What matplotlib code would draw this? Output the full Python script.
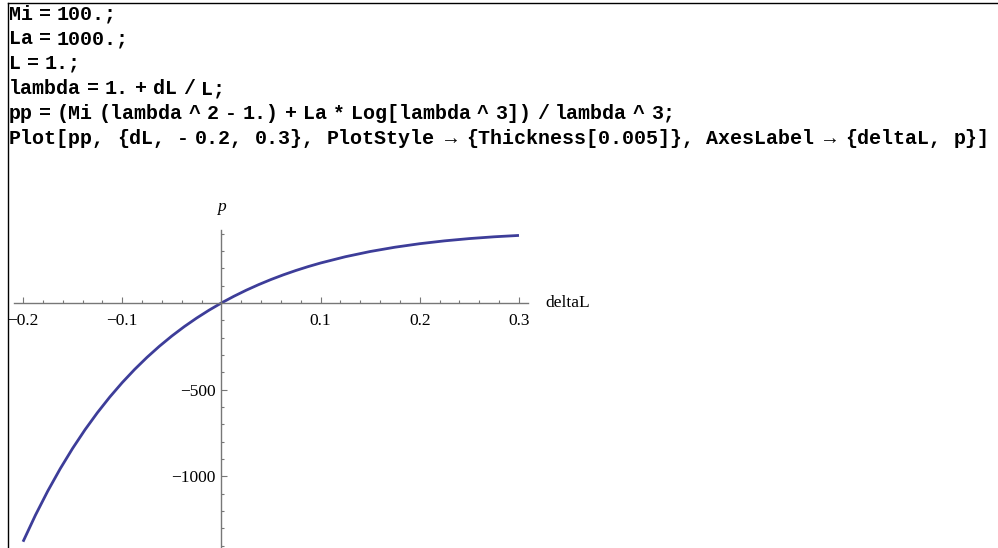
import numpy as np
import matplotlib.pyplot as plt
from matplotlib.lines import Line2D

# notebook input lines shown above the plot
codeLines = [
    "Mi = 100.;",
    "La = 1000.;",
    "L = 1.;",
    "lambda = 1. + dL / L;",
    "pp = (Mi (lambda ^ 2 - 1.) + La * Log[lambda ^ 3]) / lambda ^ 3;",
    "Plot[pp, {dL, - 0.2, 0.3}, PlotStyle \u2192 {Thickness[0.005]}, AxesLabel \u2192 {deltaL, p}]",
]

# curve
dL = [-0.2, -0.1875, -0.175, -0.1625, -0.15, -0.1375, -0.125, -0.1125, -0.1,
      -0.0875, -0.075, -0.0625, -0.05, -0.0375, -0.025, -0.0125, 0.0,
      0.0125, 0.025, 0.0375, 0.05, 0.0625, 0.075, 0.0875, 0.1,
      0.125, 0.15, 0.175, 0.2, 0.225, 0.25, 0.275, 0.3]
pVals = [-1377.8, -1224.7, -1084.7, -956.5, -839.1, -731.5, -633.0, -542.6, -459.6,
         -383.6, -313.8, -249.7, -190.8, -136.8, -87.3, -41.8, 0.0,
         38.3, 73.5, 105.7, 135.3, 162.4, 187.2, 209.9, 230.6,
         266.8, 296.9, 321.7, 342.0, 358.4, 371.5, 381.8, 389.7]

xMajor = [-0.2, -0.1, 0.1, 0.2, 0.3]
xMinor = [-0.18, -0.16, -0.14, -0.12, -0.08, -0.06, -0.04, -0.02,
          0.02, 0.04, 0.06, 0.08, 0.12, 0.14, 0.16, 0.18, 0.22, 0.24, 0.26, 0.28]
yMajor = [-1000, -500]
yMinor = [-1400, -1300, -1200, -1100, -900, -800, -700, -600, -400, -300, -200, -100,
          100, 200, 300, 400]

W, H = 998, 548
fig = plt.figure(figsize=(W / 100, H / 100), dpi=100)
fig.patch.set_facecolor('white')

# cell bracket lines
fig.add_artist(Line2D([8 / W, 1], [1 - 2.5 / H, 1 - 2.5 / H], color='black', lw=1.0))
fig.add_artist(Line2D([8 / W, 8 / W], [0, 1 - 2.5 / H], color='black', lw=1.0))

# code text, token by token (Mathematica puts narrow gaps around operators)
codeSize = 14.4
adv = 0.6 * codeSize * 100 / 72
codeBase = [19.5, 44, 69, 94, 119, 144]
for line, yb in zip(codeLines, codeBase):
    x = 9.0
    toks = line.split(' ')
    for i, tok in enumerate(toks):
        fig.text(x / W, 1 - yb / H, tok, family=['Liberation Mono', 'DejaVu Sans Mono'],
                 weight='bold', fontsize=codeSize, va='baseline', ha='left')
        x += len(tok) * adv
        nxt = toks[i + 1] if i + 1 < len(toks) else ''
        if tok.endswith(','):
            x += adv
        elif tok == '\u2192' or nxt == '\u2192':
            x += adv * 0.8
        else:
            x += adv * 0.5

# plot area in pixels: x 14..528, y 230..548
ax = fig.add_axes([14 / W, 0, 514 / W, 318 / H])
ax.set_xlim(-0.2 - 9 / 990, 0.3 + 9 / 990)
ax.set_ylim(-1414, 421)
ax.patch.set_alpha(0)

ax.plot(dL, pVals, color='#3d3d99', lw=2.0, solid_capstyle='butt', clip_on=False)

axColor = '#777777'
for side in ['top', 'right']:
    ax.spines[side].set_visible(False)
ax.spines['left'].set_position(('data', 0))
ax.spines['bottom'].set_position(('data', 0))
ax.spines['left'].set_color(axColor)
ax.spines['bottom'].set_color(axColor)
ax.spines['left'].set_linewidth(1.0)
ax.spines['bottom'].set_linewidth(1.0)

ax.set_xticks(xMajor)
ax.set_xticks(xMinor, minor=True)
ax.set_xticklabels(['\u22120.2', '\u22120.1', '0.1', '0.2', '0.3'])
ax.set_yticks(yMajor)
ax.set_yticks(yMinor, minor=True)
ax.set_yticklabels(['\u22121000', '\u2212500'])

serif = ['Liberation Serif', 'DejaVu Serif']
for lbl in ax.get_xticklabels() + ax.get_yticklabels():
    lbl.set_family(serif)
    lbl.set_fontsize(12.5)

ax.tick_params(axis='both', which='major', direction='in', length=4.5, width=0.8, color=axColor)
ax.tick_params(axis='both', which='minor', direction='in', length=2.5, width=0.8, color=axColor)
ax.tick_params(axis='x', which='major', pad=7)
ax.tick_params(axis='y', which='major', pad=4)

fig.text(221 / W, 1 - 207 / H, 'p', family=serif, style='italic', fontsize=12.5,
         ha='center', va='center')
fig.text(545 / W, 1 - 303 / H, 'deltaL', family=serif, fontsize=12.5,
         ha='left', va='center')

fig.savefig('out.png', dpi=100)
